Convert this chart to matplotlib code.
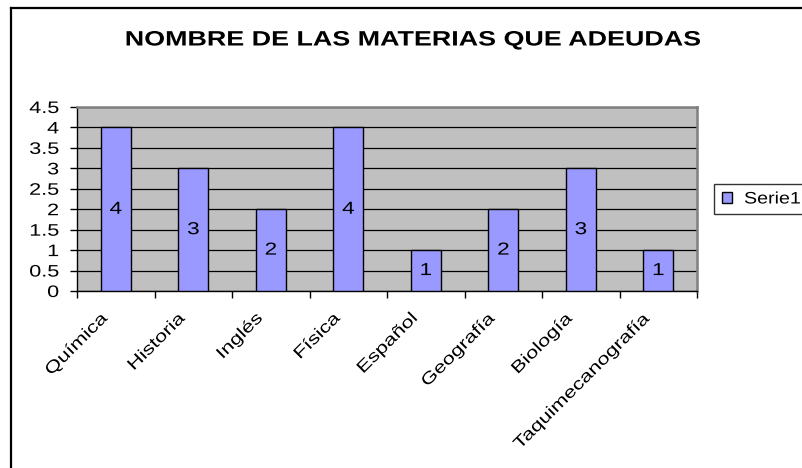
import numpy as np
import matplotlib
matplotlib.use("Agg")
import matplotlib.pyplot as plt
from matplotlib.lines import Line2D
from matplotlib.patches import Patch
from matplotlib.patheffects import AbstractPathEffect
from matplotlib.transforms import Affine2D, ScaledTranslation

plt.rcParams["font.family"] = ["Liberation Sans", "DejaVu Sans"]

materias = ["Química", "Historia", "Inglés", "Física", "Español",
            "Geografía", "Biología", "Taquimecanografía"]
adeudos = [4, 3, 2, 4, 1, 2, 3, 1]
y_ticks = [0, 0.5, 1, 1.5, 2, 2.5, 3, 3.5, 4, 4.5]


class Stretch(AbstractPathEffect):
    # widens the glyphs along the baseline, keeping the aligned end fixed
    def __init__(self, sx=1.3, anchor="center"):
        super().__init__()
        self.sx = sx
        self.anchor = anchor

    def draw_path(self, renderer, gc, tpath, affine, rgbFace=None):
        x1 = tpath.get_extents().x1
        cx = {"left": 0.0, "center": x1 / 2, "right": x1}[self.anchor]
        t = Affine2D().translate(-cx, 0).scale(self.sx, 1).translate(cx, 0) + affine
        renderer.draw_path(gc, tpath, t, rgbFace)


W, H = 802, 468
SX = 1.3
fig = plt.figure(figsize=(W / 100, H / 100), dpi=100)
ax = fig.add_axes([77 / W, 1 - 291 / H, 620 / W, 184 / H])
ax.set_facecolor("#C0C0C0")

x = np.arange(len(materias))
bars = ax.bar(x, adeudos, width=0.39, color="#9999FF", edgecolor="black",
              linewidth=1.0, zorder=3)

for b, v in zip(bars, adeudos):
    ax.text(b.get_x() + b.get_width() / 2, v / 2, str(v), ha="center",
            va="center", fontsize=12.5, zorder=4,
            path_effects=[Stretch(SX, "center")])

ax.set_xlim(-0.5, len(materias) - 0.5)
ax.set_ylim(0, 4.5)
ax.set_yticks(y_ticks)
ax.set_yticklabels([f"{v:g}" for v in y_ticks], fontsize=12)
for lab in ax.get_yticklabels():
    lab.set_path_effects([Stretch(SX, "right")])
ax.yaxis.grid(True, color="black", linewidth=0.9, zorder=1)
ax.set_axisbelow(True)

ax.set_xticks(x)
ax.set_xticklabels(materias, rotation=45, ha="right", va="top",
                   rotation_mode="anchor", fontsize=12)
ax.tick_params(axis="x", which="major", length=0, pad=14)
shift = ScaledTranslation(-0.16, 0, fig.dpi_scale_trans)
for lab in ax.get_xticklabels():
    lab.set_transform(lab.get_transform() + shift)
    lab.set_path_effects([Stretch(SX, "right")])
ax.set_xticks(np.arange(-0.5, len(materias)), minor=True)
ax.tick_params(axis="x", which="minor", length=5, width=1, direction="out")
ax.tick_params(axis="y", length=5, width=1, direction="out", pad=8)

for s in ["left", "bottom"]:
    ax.spines[s].set_color("black")
    ax.spines[s].set_linewidth(1.0)
for s in ["top", "right"]:
    ax.spines[s].set_color("#808080")
    ax.spines[s].set_linewidth(1.8)

fig.text(413 / W, 1 - 40 / H, "NOMBRE DE LAS MATERIAS QUE ADEUDAS",
         ha="center", va="center", fontsize=15, fontweight="bold",
         path_effects=[Stretch(1.29, "center")])

leg = fig.legend(handles=[Patch(facecolor="#9999FF", edgecolor="black",
                                label="Serie1")],
                 loc="upper left",
                 bbox_to_anchor=(714 / W, 1 - 217 / H, 100 / W, 33 / H),
                 mode="expand", fontsize=12, frameon=True, fancybox=False,
                 handlelength=0.65, handleheight=0.65, handletextpad=0.7,
                 borderpad=0.45, borderaxespad=0)
leg.get_frame().set_edgecolor("black")
leg.get_frame().set_linewidth(1.0)
for t in leg.get_texts():
    t.set_path_effects([Stretch(1.18, "left")])

# outer chart border (top and left visible)
fig.add_artist(Line2D([11 / W, 11 / W], [0, 1 - 8 / H], color="black",
                      linewidth=1.6, transform=fig.transFigure))
fig.add_artist(Line2D([11 / W, 1], [1 - 8 / H, 1 - 8 / H], color="black",
                      linewidth=1.6, transform=fig.transFigure))

fig.savefig("out.png", dpi=100)
